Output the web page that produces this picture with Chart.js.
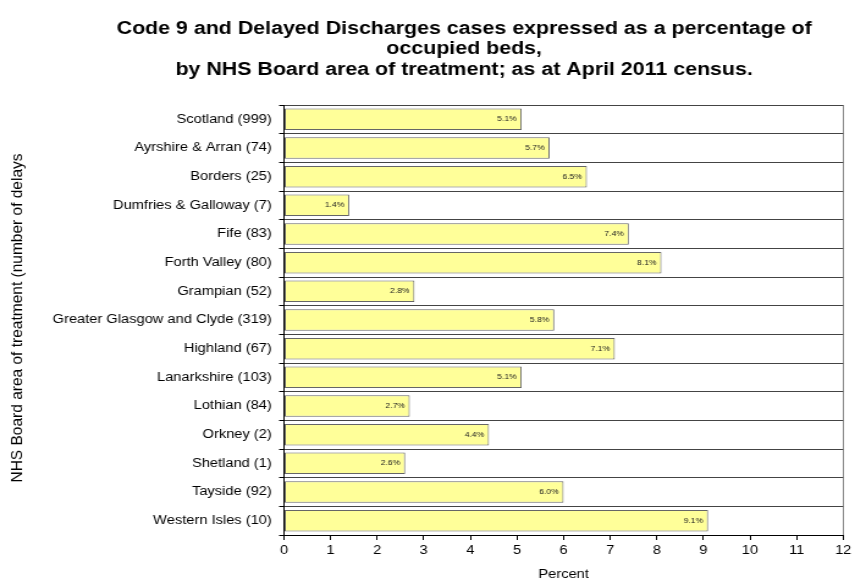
<!DOCTYPE html>
<html>
<head>
<meta charset="utf-8">
<script src="https://cdn.jsdelivr.net/npm/chart.js@4/dist/chart.umd.min.js"></script>
<style>
  html, body { margin: 0; padding: 0; background: #fff; }
  /* the reference is horizontally stretched: draw at 700px and show at 855px */
  #bieuDo { display: block; }
</style>
</head>
<body>
<canvas id="bieuDo" width="700" height="582" style="width:855px;height:582px"></canvas>
<script>
const titleLines = [
    'Code 9 and Delayed Discharges cases expressed as a percentage of',
    'occupied beds,',
    'by NHS Board area of treatment; as at April 2011 census.'
];
const yAxisTitle = 'NHS Board area of treatment (number of delays';
const boards = [
    'Scotland (999)', 'Ayrshire & Arran (74)', 'Borders (25)', 'Dumfries & Galloway (7)',
    'Fife (83)', 'Forth Valley (80)', 'Grampian (52)', 'Greater Glasgow and Clyde (319)',
    'Highland (67)', 'Lanarkshire (103)', 'Lothian (84)', 'Orkney (2)',
    'Shetland (1)', 'Tayside (92)', 'Western Isles (10)'
];
const percentValues = [5.1, 5.7, 6.5, 1.4, 7.4, 8.1, 2.8, 5.8, 7.1, 5.1, 2.7, 4.4, 2.6, 6.0, 9.1];
const xTicks = [0, 1, 2, 3, 4, 5, 6, 7, 8, 9, 10, 11, 12];

const fontName = "'Liberation Sans', Arial, sans-serif";
const stretch = 855 / 700;

// ve tieu de 3 dong + tieu de truc doc (khong bi keo gian)
const tieuDePlugin = {
    id: 'tieuDe',
    afterDraw(chart) {
        const c = chart.ctx;
        c.save();
        c.font = 'bold 17.5px ' + fontName;
        c.fillStyle = '#000';
        c.textAlign = 'center';
        c.textBaseline = 'middle';
        const ys = [29, 49, 70];
        titleLines.forEach((t, i) => c.fillText(t, 380, ys[i]));
        c.restore();

        c.save();
        c.translate(14.3, 318);
        c.scale(1 / stretch, 1);
        c.rotate(-Math.PI / 2);
        c.font = '15.5px ' + fontName;
        c.fillStyle = '#000';
        c.textAlign = 'center';
        c.textBaseline = 'middle';
        c.fillText(yAxisTitle, 0, 0);
        c.restore();
    }
};

// nhan gia tri trong thanh
const nhanPlugin = {
    id: 'nhan',
    afterDatasetsDraw(chart) {
        const c = chart.ctx;
        const meta = chart.getDatasetMeta(0);
        c.save();
        c.font = '7px ' + fontName;
        c.fillStyle = '#222';
        c.textAlign = 'right';
        c.textBaseline = 'middle';
        meta.data.forEach((bar, i) => {
            c.fillText(percentValues[i].toFixed(1) + '%', bar.x - 4, bar.y);
        });
        c.restore();
    }
};

const ctx = document.getElementById('bieuDo').getContext('2d');
new Chart(ctx, {
    type: 'bar',
    data: {
        labels: boards,
        datasets: [{
            data: percentValues,
            backgroundColor: '#FFFF99',
            borderColor: '#666',
            borderWidth: 1,
            borderSkipped: false,
            barPercentage: 0.75,
            categoryPercentage: 1
        }]
    },
    options: {
        indexAxis: 'y',
        responsive: false,
        animation: false,
        layout: { padding: { top: 105, right: 5.7, bottom: 0, left: 0 } },
        plugins: {
            legend: { display: false },
            tooltip: { enabled: false }
        },
        scales: {
            x: {
                min: 0,
                max: 12,
                afterBuildTicks: s => { s.ticks = xTicks.map(v => ({ value: v })); },
                afterFit: s => { s.height = 47; },
                grid: {
                    color: c => (c.tick && c.tick.value === 12) ? '#888' : 'rgba(0,0,0,0)',
                    tickColor: '#000',
                    tickLength: 5
                },
                border: { color: '#000' },
                ticks: { color: '#000', font: { size: 12, family: fontName }, padding: 3 },
                title: {
                    display: true,
                    text: 'Percent',
                    color: '#000',
                    font: { size: 12, family: fontName },
                    padding: { top: 0, bottom: 0 }
                }
            },
            y: {
                afterFit: s => { s.width = 232.5; },
                grid: {
                    color: '#444',
                    tickColor: '#000',
                    tickLength: 4,
                    offset: true
                },
                border: { color: '#000' },
                ticks: { color: '#000', font: { size: 12, family: fontName }, padding: 6 }
            }
        }
    },
    plugins: [tieuDePlugin, nhanPlugin]
});
</script>
</body>
</html>
